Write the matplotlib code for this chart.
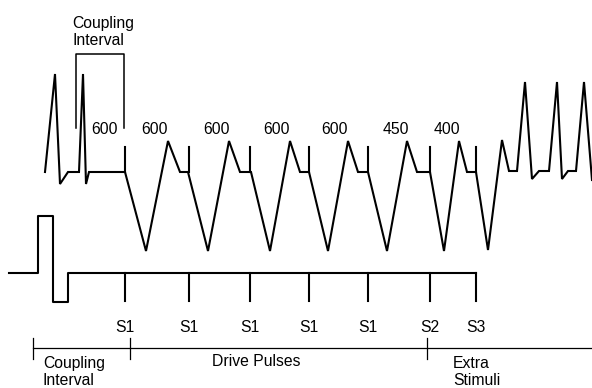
import matplotlib.pyplot as plt

plt.rcParams['font.family'] = ['Liberation Sans', 'DejaVu Sans']

# ECG trace (pixel coordinates)
ecg_x = [45, 55, 60, 68, 79, 83, 86, 89, 125,
         146, 168, 180, 188,
         208, 229, 240, 251,
         270, 290, 300, 309,
         328, 348, 358, 368,
         387, 407, 417, 430,
         444, 459, 467, 476,
         488, 502, 509, 517,
         525, 532, 539, 549,
         557, 562, 568, 576,
         584, 592]
ecg_y = [172, 74, 184, 172, 172, 74, 184, 172, 172,
         251, 141, 172, 172,
         251, 141, 172, 172,
         251, 141, 172, 172,
         251, 141, 172, 172,
         251, 141, 172, 172,
         251, 141, 172, 172,
         250, 140, 171, 171,
         82, 179, 171, 171,
         82, 179, 171, 171,
         82, 180]

# stimulus positions
stim_x = [125, 189, 250, 309, 368, 430, 476]
stim_names = ['S1', 'S1', 'S1', 'S1', 'S1', 'S2', 'S3']
interval_x = [104, 155, 217, 276, 334, 396, 447]
interval_labels = ['600', '600', '600', '600', '600', '450', '400']

# stimulator output line
pulse_x = [9, 38, 38, 53, 53, 68, 68, 476]
pulse_y = [273, 273, 216, 216, 302, 302, 273, 273]

# timeline segments
phase_ticks = [33, 130, 427]
phase_labels = ['Coupling\nInterval', 'Drive Pulses', 'Extra\nStimuli']
phase_label_x = [43, 256, 453]

fig = plt.figure(figsize=(5.92, 3.88), dpi=100)
ax = fig.add_axes([0, 0, 1, 1])
ax.set_xlim(0, 592)
ax.set_ylim(388, 0)
ax.axis('off')

fs = 11.3
lw = 1.5
ax.plot(ecg_x, ecg_y, color='black', lw=lw, solid_joinstyle='miter')
for x in stim_x:
    ax.plot([x, x], [147, 172], color='black', lw=lw)
for x, lab in zip(interval_x, interval_labels):
    ax.text(x, 129, lab, ha='center', va='center', fontsize=fs)

# coupling interval bracket
ax.plot([76, 76, 124, 124], [128, 54, 54, 128], color='black', lw=1.1)
ax.text(72, 32, 'Coupling\nInterval', ha='left', va='center', fontsize=fs,
        linespacing=1.2)

ax.plot(pulse_x, pulse_y, color='black', lw=lw)
for x, name in zip(stim_x, stim_names):
    ax.plot([x, x], [273, 301], color='black', lw=lw)
    ax.text(x, 327, name, ha='center', va='center', fontsize=fs)

# timeline
ax.plot([33, 592], [348, 348], color='black', lw=0.9)
for x in phase_ticks:
    ax.plot([x, x], [338, 359], color='black', lw=0.9)
for x, lab in zip(phase_label_x, phase_labels):
    two = '\n' in lab
    ax.text(x, 372 if two else 362, lab, ha='left' if two else 'center',
            va='center', fontsize=fs, linespacing=1.2)

fig.savefig('out.png', dpi=100)
